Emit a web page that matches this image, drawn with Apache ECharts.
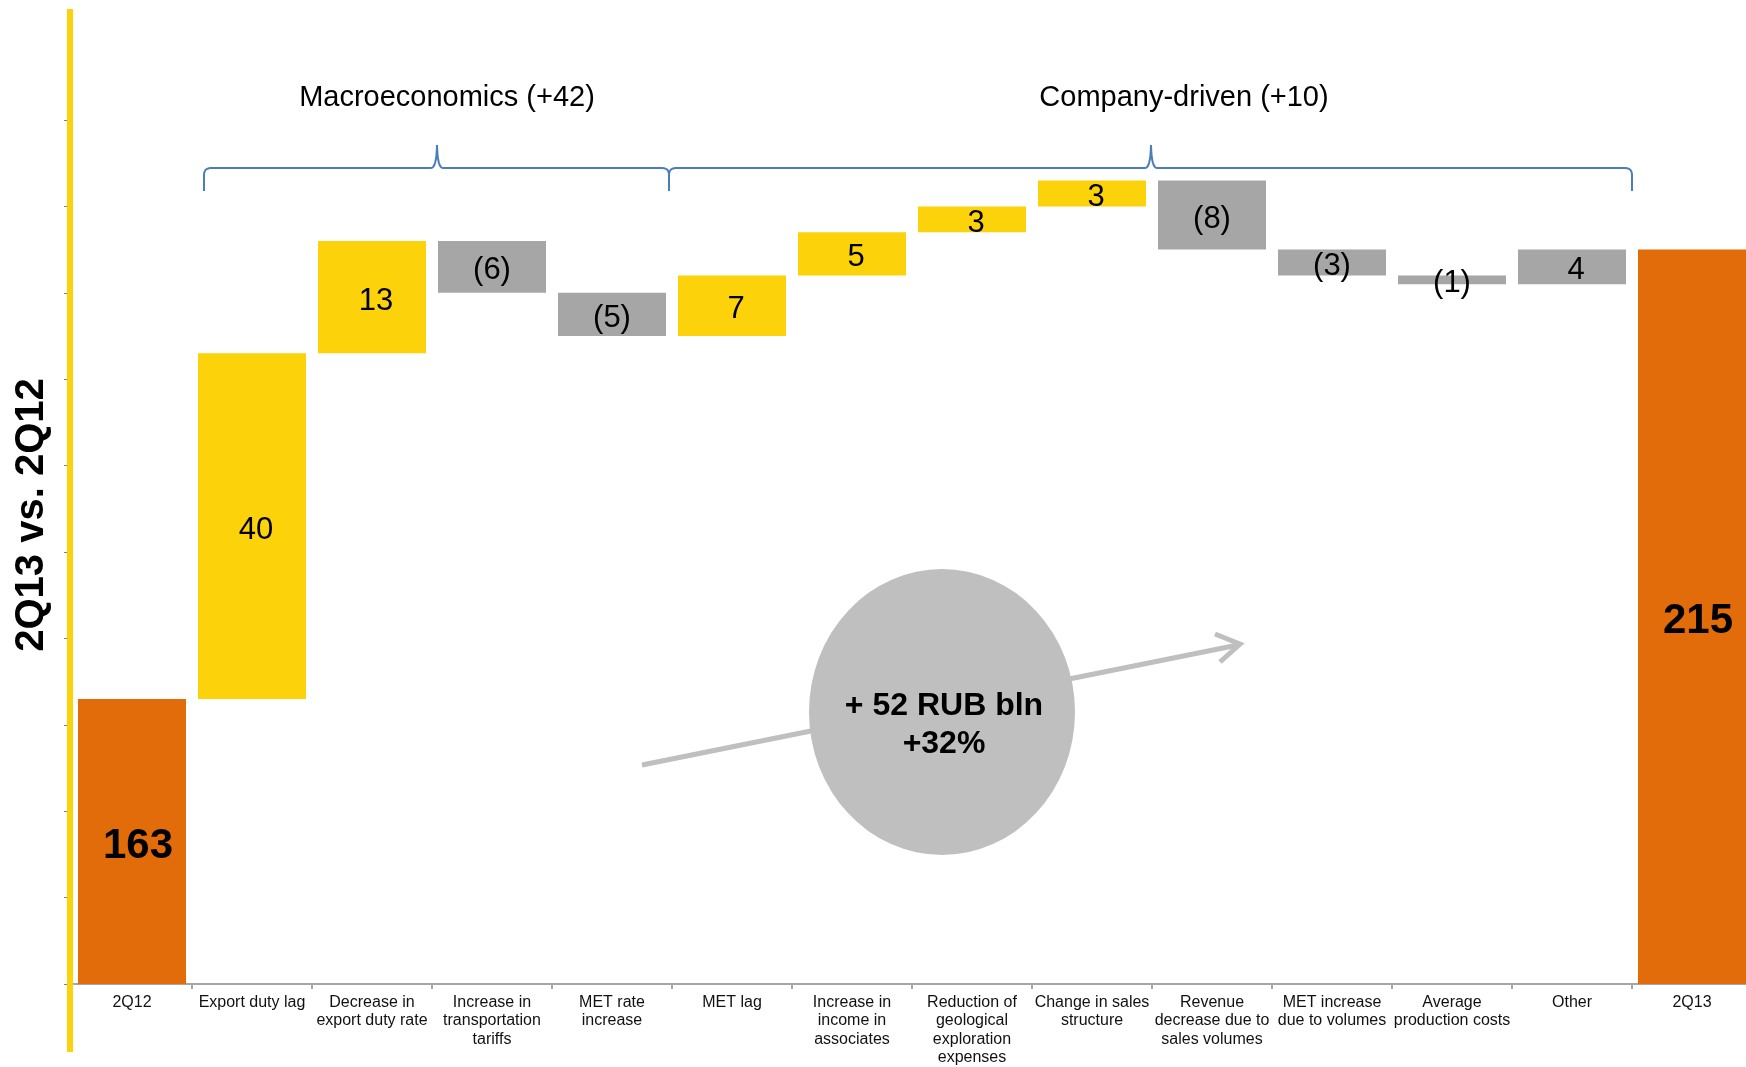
<!DOCTYPE html>
<html>
<head>
<meta charset="utf-8">
<title>Operating result bridge 2Q12 → 2Q13</title>
<script src="https://cdn.jsdelivr.net/npm/echarts@6/dist/echarts.min.js"></script>
<style>
  html, body { margin: 0; padding: 0; background: #ffffff; }
  #chart { width: 1746px; height: 1067px; }
</style>
</head>
<body>
<div id="chart"></div>
<script>
// ---- data (RUB bln) ----
const categories = [
  '2Q12',
  'Export duty lag',
  'Decrease in\nexport duty rate',
  'Increase in\ntransportation\ntariffs',
  'MET rate\nincrease',
  'MET lag',
  'Increase in\nincome in\nassociates',
  'Reduction of\ngeological\nexploration\nexpenses',
  'Change in sales\nstructure',
  'Revenue\ndecrease due to\nsales volumes',
  'MET increase\ndue to volumes',
  'Average\nproduction costs',
  'Other',
  '2Q13'
];
const openingValue = 163;
const changes = [40, 13, -6, -5, 7, 5, 3, 3, -8, -3, -1, 4];
const closingValue = 215;
const macroDriverCount = 4;          // first four drivers are macroeconomic
const residualName = 'Other';
const yAxisMin = 130;
const yAxisMax = 230;
const yAxisStep = 10;

// ---- build the floating bars ----
const FONT = "'Liberation Sans', Arial, Helvetica, sans-serif";
const COLOR_TOTAL = '#E36C0A';
const COLOR_UP = '#FCD20A';
const COLOR_DOWN = '#A6A6A6';

const totalLabel = v => ({ formatter: String(v), fontSize: 42, fontWeight: 'bold', offset: [6, 5] });

const baseValues = [0];
const barItems = [{
  value: openingValue,
  itemStyle: { color: COLOR_TOTAL },
  label: totalLabel(openingValue)
}];
let running = openingValue;
changes.forEach((c, i) => {
  const name = categories[i + 1];
  baseValues.push(c >= 0 ? running : running + c);
  const favourable = c > 0 && name !== residualName;
  barItems.push({
    value: Math.abs(c),
    itemStyle: { color: favourable ? COLOR_UP : COLOR_DOWN },
    label: c < 0
      ? { formatter: '(' + (-c) + ')', offset: [0, 4] }
      : { formatter: String(c), offset: [4, 4] }
  });
  running += c;
});
baseValues.push(0);
barItems.push({
  value: closingValue,
  itemStyle: { color: COLOR_TOTAL },
  label: totalLabel(closingValue)
});

const macroTotal = changes.slice(0, macroDriverCount).reduce((a, b) => a + b, 0);
const companyTotal = changes.slice(macroDriverCount).reduce((a, b) => a + b, 0);
const growth = closingValue - openingValue;
const growthPct = Math.round(growth / openingValue * 100);
const signed = v => (v >= 0 ? '+' : '') + v;

// ---- curly brace outline ----
function quad(p0, c, p1, n) {
  const pts = [];
  for (let k = 1; k <= n; k++) {
    const t = k / n, u = 1 - t;
    pts.push([u * u * p0[0] + 2 * u * t * c[0] + t * t * p1[0],
              u * u * p0[1] + 2 * u * t * c[1] + t * t * p1[1]]);
  }
  return pts;
}
function brace(x0, x1, xm, yLine, yEnd, yPeak) {
  const r = 7;
  let pts = [[x0, yEnd], [x0, yLine + r]];
  pts = pts.concat(quad([x0, yLine + r], [x0, yLine], [x0 + r, yLine], 6));
  pts.push([xm - 6, yLine]);
  pts = pts.concat(quad([xm - 6, yLine], [xm - 0.5, yLine], [xm, yPeak], 8));
  pts = pts.concat(quad([xm, yPeak], [xm + 0.5, yLine], [xm + 6, yLine], 8));
  pts.push([x1 - r, yLine]);
  pts = pts.concat(quad([x1 - r, yLine], [x1, yLine], [x1, yLine + r], 6));
  pts.push([x1, yEnd]);
  return pts;
}

const chart = echarts.init(document.getElementById('chart'), null, { renderer: 'canvas' });

chart.setOption({
  animation: false,
  backgroundColor: '#ffffff',
  grid: { left: 72, top: 120, width: 1680, height: 864, containLabel: false, outerBoundsMode: 'none' },
  xAxis: {
    type: 'category',
    data: categories,
    axisLine: { show: true, lineStyle: { color: '#A6A6A6', width: 2 } },
    axisTick: { show: true, length: 5, lineStyle: { color: '#A6A6A6', width: 2 } },
    axisLabel: {
      interval: 0, margin: 9, color: '#111111',
      fontFamily: FONT, fontSize: 16, lineHeight: 18.5, align: 'center'
    },
    splitLine: { show: false }
  },
  yAxis: {
    type: 'value',
    min: yAxisMin, max: yAxisMax, interval: yAxisStep,
    axisLine: { show: true, lineStyle: { color: '#808080', width: 1 } },
    axisTick: { show: true, length: 8, lineStyle: { color: '#808080', width: 1 } },
    axisLabel: { show: false },
    splitLine: { show: false }
  },
  series: [
    {
      name: 'base', type: 'bar', stack: 'bridge',
      data: baseValues,
      itemStyle: { color: 'rgba(0,0,0,0)' },
      emphasis: { disabled: true },
      barCategoryGap: '10%',
      silent: true
    },
    {
      name: 'change', type: 'bar', stack: 'bridge',
      data: barItems,
      barCategoryGap: '10%',
      label: {
        show: true, position: 'inside', color: '#000000',
        fontFamily: FONT, fontSize: 31
      }
    }
  ],
  graphic: [
    // yellow accent stripe over the value axis
    { type: 'rect', z: 100, shape: { x: 67, y: 9, width: 6, height: 1043 }, style: { fill: '#FCD20A' } },
    // side title
    {
      type: 'text', z: 100, x: 32, y: 515, rotation: Math.PI / 2,
      style: {
        text: '2Q13 vs. 2Q12', fill: '#000000', font: 'bold 40px ' + FONT,
        align: 'center', verticalAlign: 'middle'
      }
    },
    // group headings
    {
      type: 'text', z: 100, x: 447, y: 98,
      style: {
        text: 'Macroeconomics (' + signed(macroTotal) + ')', fill: '#000000',
        font: '29px ' + FONT, align: 'center', verticalAlign: 'middle'
      }
    },
    {
      type: 'text', z: 100, x: 1184, y: 98,
      style: {
        text: 'Company-driven (' + signed(companyTotal) + ')', fill: '#000000',
        font: '29px ' + FONT, align: 'center', verticalAlign: 'middle'
      }
    },
    // group braces
    {
      type: 'polyline', z: 100,
      shape: { points: brace(204, 669, 437, 168, 191, 145) },
      style: { stroke: '#4A7EBB', lineWidth: 2, fill: null }
    },
    {
      type: 'polyline', z: 100,
      shape: { points: brace(669, 1632, 1151, 168, 191, 145) },
      style: { stroke: '#4A7EBB', lineWidth: 2, fill: null }
    },
    // growth arrow
    {
      type: 'line', z: 90,
      shape: { x1: 642, y1: 765, x2: 1238, y2: 645 },
      style: { stroke: '#BFBFBF', lineWidth: 5 }
    },
    {
      type: 'polyline', z: 90,
      shape: { points: [[1215, 634], [1240, 644], [1220, 662]] },
      style: { stroke: '#BFBFBF', lineWidth: 5, fill: null }
    },
    // growth badge
    {
      type: 'circle', z: 95, x: 942, y: 712, scaleY: 143 / 133,
      shape: { cx: 0, cy: 0, r: 133 },
      style: { fill: '#BFBFBF' }
    },
    {
      type: 'text', z: 96, x: 944, y: 725,
      style: {
        text: '+ ' + growth + ' RUB bln\n' + signed(growthPct) + '%',
        fill: '#000000', font: 'bold 32px ' + FONT, lineHeight: 38,
        align: 'center', verticalAlign: 'middle'
      }
    }
  ]
});
</script>
</body>
</html>
